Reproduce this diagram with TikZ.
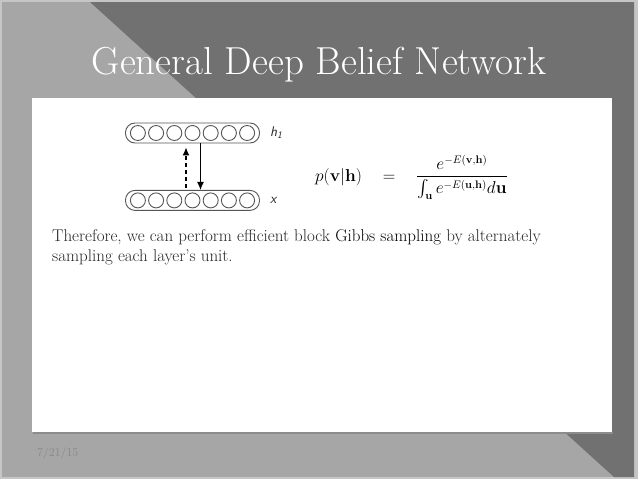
\documentclass[tikz,border=0pt]{standalone}
\usepackage{amsmath}
\usetikzlibrary{arrows.meta, positioning, calc}
\definecolor{slidelight}{HTML}{A6A6A6}
\definecolor{slidedark}{HTML}{717171}
\definecolor{slideedge}{HTML}{C6C6C6}
\definecolor{slidedate}{HTML}{888888}
\definecolor{unitgray}{HTML}{555555}
\tikzset{
    >=Latex,
    x=1pt,
    y=-1pt,
    slide_title/.style={
        anchor=base,
        text=white,
        inner sep=0pt,
        font=\fontsize{39}{39}\selectfont
    },
    slide_text/.style={
        anchor=north west,
        text=black!85,
        align=left,
        inner sep=0pt,
        font=\fontsize{17}{20}\selectfont
    },
    slide_date/.style={
        anchor=west,
        text=slidedate,
        inner sep=0pt,
        font=\fontsize{12}{12}\selectfont
    },
    dbn_layer/.style={
        rectangle,
        rounded corners=9.5pt,
        draw=unitgray,
        line width=0.9pt,
        minimum width=134pt,
        minimum height=20pt,
        inner sep=0pt
    },
    dbn_unit/.style={
        circle,
        draw=unitgray,
        line width=0.9pt,
        minimum size=15pt,
        inner sep=0pt
    },
    dbn_label/.style={
        text=black!85,
        inner sep=0pt,
        font=\sffamily\itshape\fontsize{14}{14}\selectfont
    },
    dbn_arrow/.style={
        -{Latex[length=8pt, width=7pt]},
        line width=1.2pt
    },
    dbn_dashed_arrow/.style={
        dbn_arrow,
        dash pattern=on 4pt off 3pt
    }
}

\begin{document}
\begin{tikzpicture}
\useasboundingbox (0,0) rectangle (638,479);

% --- Slide background ---
\fill[slideedge] (0,0) rectangle (638,479);
\fill[slidelight] (2,2) rectangle (634,477);
\fill[slidedark] (90,2) -- (634,2) -- (634,477) -- (614,477) -- cycle;
\fill[black!45] (33,432) rectangle (613,434);
\fill[white] (32,98) rectangle (612,432);

% --- Title ---
\node[slide_title] (title) at (319,74) {General Deep Belief Network};

% --- Network layers ---
\node[dbn_layer] (h_layer) at (192.5,133) {};
\node[dbn_layer, below=46.5pt of h_layer] (x_layer) {};
\foreach \i in {1,...,7} {
    \node[dbn_unit] (h_unit\i) at ($(h_layer.center)+({(\i-4)*18.2},0)$) {};
    \node[dbn_unit] (x_unit\i) at ($(x_layer.center)+({(\i-4)*18.2},0)$) {};
}
\node[dbn_label, right=10pt of h_layer] (h_lbl) {h\textsubscript{1}};
\node[dbn_label, right=10pt of x_layer] (x_lbl) {x};

% --- Edges ---
\draw[dbn_arrow] ([xshift=8pt]h_layer.south) -- ([xshift=8pt]x_layer.north);
\draw[dbn_dashed_arrow] ([xshift=-6.5pt, yshift=2pt]x_layer.north) -- ([xshift=-6.5pt, yshift=-4pt]h_layer.south);

% --- Conditional ---
\node[anchor=west, inner sep=0pt, font=\fontsize{16}{18}\selectfont] (cond_prob) at (315,177)
    {$p(\mathbf{v}|\mathbf{h}) \quad = \quad \dfrac{e^{-E(\mathbf{v},\mathbf{h})}}{\int_{\mathbf{u}} e^{-E(\mathbf{u},\mathbf{h})} d\mathbf{u}}$};

% --- Body text ---
\node[slide_text] (body) at (52,229)
    {Therefore, we can perform efficient block {\color{black}Gibbs sampling} by alternately\\ sampling each layer's unit.};

% --- Footer ---
\node[slide_date] (date) at (37,453) {7/21/15};

\end{tikzpicture}
\end{document}
